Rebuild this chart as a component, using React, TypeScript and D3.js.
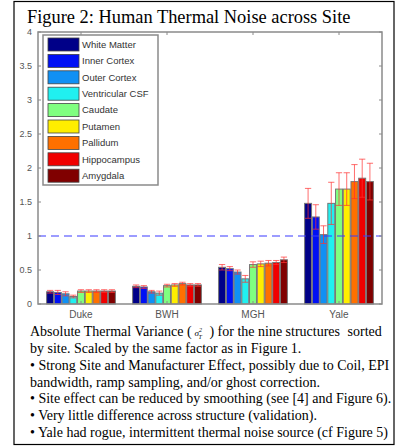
import * as d3 from "d3";

const sites = ["Duke", "BWH", "MGH", "Yale"];
const structures = [
  "White Matter",
  "Inner Cortex",
  "Outer Cortex",
  "Ventricular CSF",
  "Caudate",
  "Putamen",
  "Pallidum",
  "Hippocampus",
  "Amygdala",
];
const colors = [
  "#000088", "#0010f4", "#1090f4", "#20f0f0", "#80ff80",
  "#ffee00", "#ff7000", "#f00000", "#800000",
];

// mean variance per structure, one array per site
const duke = [0.18, 0.17, 0.15, 0.11, 0.19, 0.19, 0.19, 0.19, 0.19];
const bwh = [0.26, 0.25, 0.18, 0.16, 0.27, 0.28, 0.3, 0.28, 0.28];
const mgh = [0.54, 0.52, 0.47, 0.37, 0.58, 0.59, 0.6, 0.61, 0.65];
const yale = [1.48, 1.28, 1.02, 1.48, 1.69, 1.69, 1.8, 1.85, 1.8];

const dukeErr = [0.02, 0.03, 0.03, 0.02, 0.02, 0.02, 0.02, 0.02, 0.02];
const bwhErr = [0.02, 0.02, 0.02, 0.03, 0.02, 0.02, 0.02, 0.02, 0.02];
const mghErr = [0.04, 0.03, 0.03, 0.05, 0.04, 0.04, 0.04, 0.03, 0.04];
const yaleErr = [0.22, 0.18, 0.13, 0.31, 0.24, 0.24, 0.25, 0.28, 0.27];

const yTicks = [0, 0.5, 1, 1.5, 2, 2.5, 3, 3.5, 4];

const caption = [
  "by site. Scaled by the same factor as in Figure 1.",
  "\u2022 Strong Site and Manufacturer Effect, possibly due to Coil, EPI",
  "bandwidth, ramp sampling, and/or ghost correction.",
  "\u2022 Site effect can be reduced by smoothing (see [4] and Figure 6).",
  "\u2022 Very little difference across structure (validation).",
  "\u2022 Yale had rogue, intermittent thermal noise source (cf Figure 5)",
];

export default function App() {
  const W = 398;
  const H = 448;
  const plot = { l: 38, r: 382, t: 32, b: 304 };

  const values = [duke, bwh, mgh, yale];
  const errs = [dukeErr, bwhErr, mghErr, yaleErr];

  const x0 = d3.scaleBand().domain(sites).range([plot.l, plot.r]).paddingInner(0.2).paddingOuter(0.1);
  const x1 = d3.scaleBand().domain(structures).range([0, x0.bandwidth()]).paddingInner(0.1);
  const y = d3.scaleLinear().domain([0, 4]).range([plot.b, plot.t]);
  const color = d3.scaleOrdinal<string, string>().domain(structures).range(colors);

  const axisGray = "#8a8a8a";
  const labelGray = "#555";
  const sans = "'Liberation Sans', Arial, sans-serif";
  const serif = "'Liberation Serif', 'Times New Roman', serif";

  const leg = { x: 43, y: 35, w: 115, h: 150, step: 16.4 };

  return (
    <>
      <style>{`body{margin:0}`}</style>
      <svg width={W} height={H} viewBox={`0 0 ${W} ${H}`} style={{ display: "block" }}>
        <rect x={0} y={0} width={W} height={H} fill="#fff" />
        <rect x={14} y={1.5} width={380} height={443} fill="none" stroke="#000" strokeWidth={1.2} />
        <text x={27} y={23} fontFamily={serif} fontSize={18.4} fill="#000">
          Figure 2: Human Thermal Noise across Site
        </text>

        {/* bars */}
        {sites.map((s, si) => (
          <g key={s} transform={`translate(${x0(s)},0)`}>
            {structures.map((st, i) => (
              <rect
                key={st}
                x={x1(st)}
                y={y(values[si][i])}
                width={x1.bandwidth()}
                height={y(0) - y(values[si][i])}
                fill={color(st)}
                stroke="#777"
                strokeWidth={1}
              />
            ))}
          </g>
        ))}

        {/* reference line */}
        <line x1={plot.l} x2={plot.r} y1={y(1)} y2={y(1)} stroke="#3a3aff" strokeWidth={1.2} strokeDasharray="8 5" />

        {/* error bars */}
        {sites.map((s, si) => (
          <g key={s} transform={`translate(${x0(s)},0)`} stroke="#ff3030" strokeOpacity={0.7} strokeWidth={1}>
            {structures.map((st, i) => {
              const cx = (x1(st) ?? 0) + x1.bandwidth() / 2;
              const v = values[si][i];
              const e = errs[si][i];
              const cw = x1.bandwidth() * 0.45;
              return (
                <g key={st}>
                  <line x1={cx} x2={cx} y1={y(v - e)} y2={y(v + e)} />
                  <line x1={cx - cw} x2={cx + cw} y1={y(v + e)} y2={y(v + e)} />
                  <line x1={cx - cw} x2={cx + cw} y1={y(v - e)} y2={y(v - e)} />
                </g>
              );
            })}
          </g>
        ))}

        {/* axes box */}
        <rect x={plot.l} y={plot.t} width={plot.r - plot.l} height={plot.b - plot.t} fill="none" stroke={axisGray} strokeWidth={1.5} />
        {yTicks.map((t) => (
          <g key={t}>
            <line x1={plot.l} x2={plot.l + 3} y1={y(t)} y2={y(t)} stroke={axisGray} />
            <line x1={plot.r - 3} x2={plot.r} y1={y(t)} y2={y(t)} stroke={axisGray} />
            <text x={plot.l - 6} y={y(t) + 3} textAnchor="end" fontFamily={sans} fontSize={9} fill={labelGray}>
              {t}
            </text>
          </g>
        ))}
        {sites.map((s) => {
          const cx = (x0(s) ?? 0) + x0.bandwidth() / 2;
          return (
            <g key={s}>
              <line x1={cx} x2={cx} y1={plot.b} y2={plot.b - 3} stroke={axisGray} />
              <line x1={cx} x2={cx} y1={plot.t} y2={plot.t + 3} stroke={axisGray} />
              <text x={cx} y={318} textAnchor="middle" fontFamily={sans} fontSize={10} fill={labelGray}>
                {s}
              </text>
            </g>
          );
        })}

        {/* legend */}
        <rect x={leg.x} y={leg.y} width={leg.w} height={leg.h} fill="#fff" stroke={axisGray} strokeWidth={1.5} />
        {structures.map((st, i) => {
          const cy = leg.y + 9.5 + i * leg.step;
          return (
            <g key={st}>
              <rect x={leg.x + 5} y={cy - 6.5} width={31} height={13} fill={color(st)} stroke="#444" strokeWidth={0.8} />
              <text x={leg.x + 39} y={cy + 3.2} fontFamily={sans} fontSize={9.5} fill="#333">
                {st}
              </text>
            </g>
          );
        })}

        {/* caption */}
        <g fontFamily={serif} fontSize={14} fill="#000">
          <text x={30} y={336}>
            Absolute Thermal Variance (
            <tspan fontStyle="italic" fontSize={9} dx={3}>&#963;</tspan>
            <tspan fontStyle="italic" fontSize={6} dy={-4}>2</tspan>
            <tspan fontStyle="italic" fontSize={6} dx={-3.5} dy={6.5}>T</tspan>
            <tspan dy={-2.5} dx={4}> ) for the nine structures</tspan>
            <tspan dx={4}> sorted</tspan>
          </text>
          {caption.map((line, i) => (
            <text key={i} x={30} y={353 + i * 16.8}>
              {line}
            </text>
          ))}
        </g>
      </svg>
    </>
  );
}
